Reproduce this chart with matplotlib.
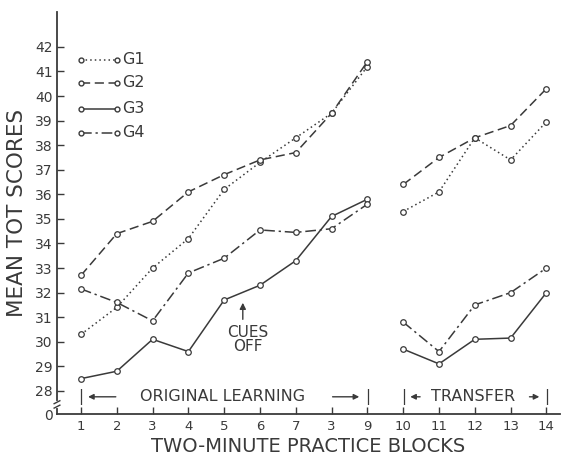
import matplotlib
matplotlib.use("Agg")
import matplotlib.pyplot as plt
import numpy as np

blocks_learn = [1, 2, 3, 4, 5, 6, 7, 8, 9]
blocks_transfer = [10, 11, 12, 13, 14]
x_tick_labels = ["1", "2", "3", "4", "5", "6", "7", "3", "9", "10", "11", "12", "13", "14"]
y_tick_values = [28, 29, 30, 31, 32, 33, 34, 35, 36, 37, 38, 39, 40, 41, 42]

g1_learn = [30.3, 31.4, 33.0, 34.2, 36.2, 37.3, 38.3, 39.3, 41.2]
g2_learn = [32.7, 34.4, 34.9, 36.1, 36.8, 37.4, 37.7, 39.3, 41.4]
g3_learn = [28.5, 28.8, 30.1, 29.6, 31.7, 32.3, 33.3, 35.1, 35.8]
g4_learn = [32.15, 31.6, 30.85, 32.8, 33.4, 34.55, 34.45, 34.6, 35.6]

g1_transfer = [35.3, 36.1, 38.3, 37.4, 38.95]
g2_transfer = [36.4, 37.5, 38.3, 38.8, 40.3]
g3_transfer = [29.7, 29.1, 30.1, 30.15, 32.0]
g4_transfer = [30.8, 29.6, 31.5, 32.0, 33.0]

groups = ["G1", "G2", "G3", "G4"]
styles = [(0, (1, 2)), (0, (6, 3)), "-", (0, (7, 2.5, 1.5, 2.5))]

ZERO_POS = 27.06
col = "#3a3a3a"

fig = plt.figure(figsize=(5.71, 4.61), dpi=100)
ax = fig.add_axes([57/571, 1-414/461, (560-57)/571, (414-12)/461])

learn = [g1_learn, g2_learn, g3_learn, g4_learn]
trans = [g1_transfer, g2_transfer, g3_transfer, g4_transfer]
for name, ls, yl, yt in zip(groups, styles, learn, trans):
    for xs, ys in ((blocks_learn, yl), (blocks_transfer, yt)):
        ax.plot(xs, ys, linestyle=ls, color=col, lw=1.1, marker="o",
                markersize=4, markerfacecolor="white", markeredgecolor=col,
                markeredgewidth=0.9)

ax.set_xlim(0.33, 14.38)
ax.set_ylim(ZERO_POS, 43.42)
for s in ("top", "right"):
    ax.spines[s].set_visible(False)
for s in ("left", "bottom"):
    ax.spines[s].set_color(col)
    ax.spines[s].set_linewidth(1.3)

ax.set_xticks(range(1, 15))
ax.set_xticklabels(x_tick_labels, fontsize=9.5, color=col)
ax.set_yticks([ZERO_POS] + y_tick_values)
ax.set_yticklabels(["0"] + [str(v) for v in y_tick_values], fontsize=10, color=col)
ax.tick_params(axis="both", direction="in", length=5, width=1, color=col)
ax.tick_params(axis="x", pad=4)
ax.tick_params(axis="y", pad=3)
ax.yaxis.get_major_ticks()[0].tick1line.set_visible(False)

# axis break
ax.plot([0.33, 0.33], [27.38, 27.52], color="white", lw=3, clip_on=False, zorder=5)
ax.plot([0.25, 0.41], [27.30, 27.42], color=col, lw=1.0, clip_on=False, zorder=6)
ax.plot([0.25, 0.41], [27.48, 27.60], color=col, lw=1.0, clip_on=False, zorder=6)

ax.set_xlabel("TWO-MINUTE PRACTICE BLOCKS", fontsize=14, color=col, labelpad=3)
ax.set_ylabel("MEAN TOT SCORES", fontsize=15.5, color=col, labelpad=6)

# legend (hand drawn style)
leg_y = [41.47, 40.54, 39.48, 38.5]
for name, ls, yy in zip(groups, styles, leg_y):
    ax.plot([1.0, 2.0], [yy, yy], linestyle=ls, color=col, lw=1.1, marker="o",
            markersize=3.5, markerfacecolor="white", markeredgecolor=col)
    ax.text(2.15, yy, name, fontsize=11.5, color=col, va="center", ha="left")

# CUES OFF
ax.annotate("", xy=(5.52, 31.7), xytext=(5.52, 30.8),
            arrowprops=dict(arrowstyle="-|>", color=col, lw=1.0, mutation_scale=9))
ax.text(5.66, 30.08, "CUES\nOFF", fontsize=11, color=col, ha="center", va="center",
        linespacing=0.95)

# Period annotations
yb = 27.76
arrow_kw = dict(arrowstyle="-|>", color=col, lw=1.0, mutation_scale=8)
ax.text(1.0, yb, "|", fontsize=11, color=col, ha="center", va="center")
ax.text(9.0, yb, "|", fontsize=11, color=col, ha="center", va="center")
ax.annotate("", xy=(1.12, yb), xytext=(2.05, yb), arrowprops=arrow_kw)
ax.annotate("", xy=(8.85, yb), xytext=(7.95, yb), arrowprops=arrow_kw)
ax.text(4.95, yb, "ORIGINAL LEARNING", fontsize=11.5, color=col, va="center", ha="center")

ax.text(10.0, yb, "|", fontsize=11, color=col, ha="center", va="center")
ax.text(14.0, yb, "|", fontsize=11, color=col, ha="center", va="center")
ax.annotate("", xy=(10.12, yb), xytext=(10.55, yb), arrowprops=arrow_kw)
ax.annotate("", xy=(13.88, yb), xytext=(13.45, yb), arrowprops=arrow_kw)
ax.text(11.95, yb, "TRANSFER", fontsize=11.5, color=col, va="center", ha="center")

fig.savefig("out.png", dpi=100)
